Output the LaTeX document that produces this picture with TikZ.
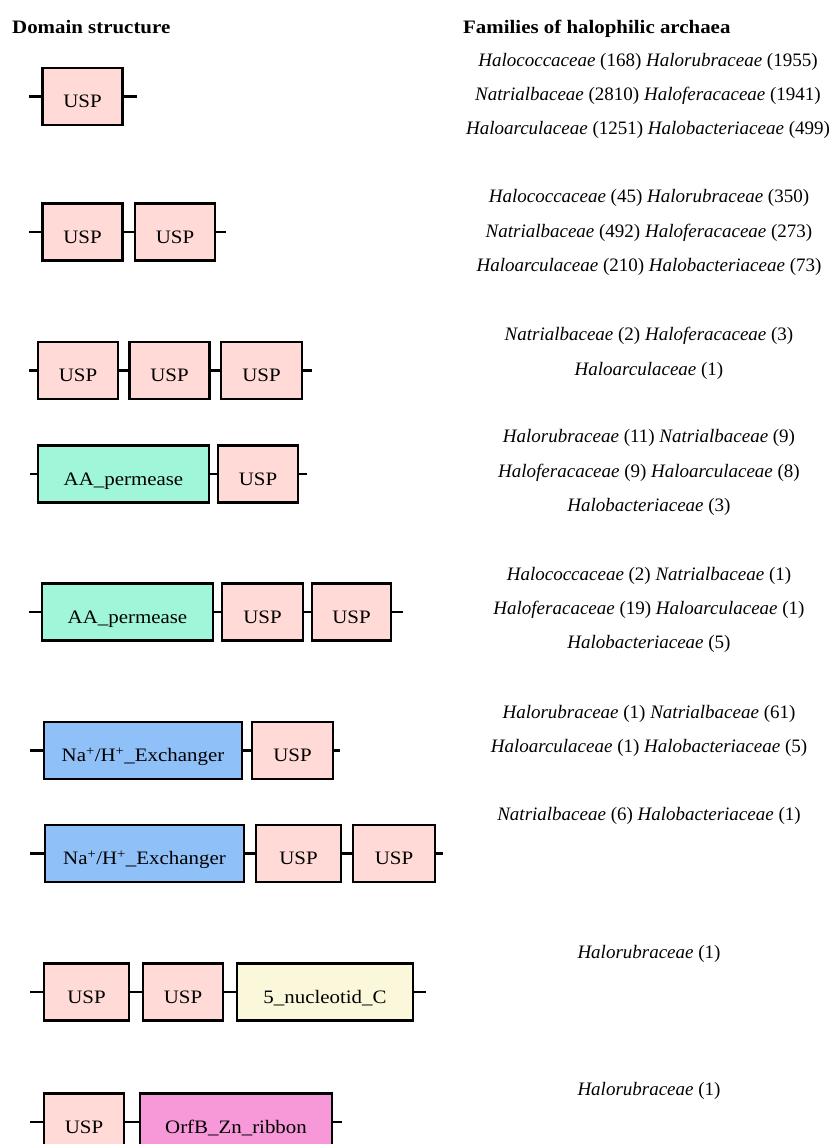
\documentclass[tikz,border=0pt]{standalone}
\usepackage{fontspec}
\setmainfont{Liberation Serif}
\newfontfamily\widefont[FakeStretch=1.1]{Liberation Serif}
\definecolor{uspc}{RGB}{255,218,214}
\definecolor{aac}{RGB}{160,246,216}
\definecolor{nac}{RGB}{143,192,248}
\definecolor{nucc}{RGB}{250,247,218}
\definecolor{orfc}{RGB}{247,152,216}
\begin{document}
\begin{tikzpicture}[x=1pt,y=-1pt,
  dom/.style={draw=black, line width=2.8pt, inner sep=0pt, outer sep=0pt,
    minimum height=57pt, font=\widefont\fontsize{19}{19}\selectfont, anchor=center,
    text height=22pt, text depth=0pt},
  usp/.style={dom, fill=uspc, minimum width=80pt},
  aap/.style={dom, fill=aac, minimum width=171pt},
  nah/.style={dom, fill=nac, minimum width=198pt},
  nuc/.style={dom, fill=nucc, minimum width=176pt},
  orf/.style={dom, fill=orfc, minimum width=192pt},
  link/.style={line width=2.6pt},
  fam/.style={font=\fontsize{19}{19}\selectfont, anchor=center, inner sep=0pt},
  head/.style={font=\widefont\bfseries\fontsize{19}{19}\selectfont, anchor=base west, inner sep=0pt}]
\useasboundingbox (0,0) rectangle (831,1144);
\clip (0,0) rectangle (831,1144);

\node[head] (h1) at (12,33) {Domain structure};
\node[head] (h2) at (463,33) {Families of halophilic archaea};

% Row 1
\coordinate (r1l) at (29,96.5); \coordinate (r1r) at (137,96.5);
\node[usp] (r1a) at (82.5,96.5) {USP};
\draw[link] (r1l) -- (r1a.west) (r1a.east) -- (r1r);

% Row 2
\coordinate (r2l) at (29,232); \coordinate (r2r) at (226,232);
\node[usp] (r2a) at (82.5,232) {USP};
\node[usp] (r2b) at (175,232) {USP};
\draw[link] (r2l) -- (r2a.west) (r2a.east) -- (r2b.west) (r2b.east) -- (r2r);

% Row 3
\coordinate (r3l) at (29,370.5); \coordinate (r3r) at (312,370.5);
\node[usp] (r3a) at (78,370.5) {USP};
\node[usp] (r3b) at (169.5,370.5) {USP};
\node[usp, minimum width=81pt] (r3c) at (261.5,370.5) {USP};
\draw[link] (r3l) -- (r3a.west) (r3a.east) -- (r3b.west) (r3b.east) -- (r3c.west) (r3c.east) -- (r3r);

% Row 4
\coordinate (r4l) at (30,474); \coordinate (r4r) at (307,474);
\node[aap] (r4a) at (123.5,474) {AA\_permease};
\node[usp] (r4b) at (258,474) {USP};
\draw[link] (r4l) -- (r4a.west) (r4a.east) -- (r4b.west) (r4b.east) -- (r4r);

% Row 5
\coordinate (r5l) at (29,612); \coordinate (r5r) at (403,612);
\node[aap] (r5a) at (127.5,612) {AA\_permease};
\node[usp, minimum width=81pt] (r5b) at (262.5,612) {USP};
\node[usp, minimum width=79pt] (r5c) at (351.5,612) {USP};
\draw[link] (r5l) -- (r5a.west) (r5a.east) -- (r5b.west) (r5b.east) -- (r5c.west) (r5c.east) -- (r5r);

% Row 6
\coordinate (r6l) at (30,750.5); \coordinate (r6r) at (340,750.5);
\node[nah] (r6a) at (143,750.5) {Na\textsuperscript{+}/H\textsuperscript{+}\_Exchanger};
\node[usp, minimum width=81pt] (r6b) at (292.5,750.5) {USP};
\draw[link] (r6l) -- (r6a.west) (r6a.east) -- (r6b.west) (r6b.east) -- (r6r);

% Row 7
\coordinate (r7l) at (30,853.5); \coordinate (r7r) at (443,853.5);
\node[nah, minimum width=199pt] (r7a) at (144.5,853.5) {Na\textsuperscript{+}/H\textsuperscript{+}\_Exchanger};
\node[usp, minimum width=85pt] (r7b) at (298.5,853.5) {USP};
\node[usp, minimum width=82pt] (r7c) at (394,853.5) {USP};
\draw[link] (r7l) -- (r7a.west) (r7a.east) -- (r7b.west) (r7b.east) -- (r7c.west) (r7c.east) -- (r7r);

% Row 8
\coordinate (r8l) at (30,992); \coordinate (r8r) at (426,992);
\node[usp, minimum width=85pt] (r8a) at (86.5,992) {USP};
\node[usp] (r8b) at (183,992) {USP};
\node[nuc] (r8c) at (325,992) {5\_nucleotid\_C};
\draw[link] (r8l) -- (r8a.west) (r8a.east) -- (r8b.west) (r8b.east) -- (r8c.west) (r8c.east) -- (r8r);

% Row 9
\coordinate (r9l) at (30,1122); \coordinate (r9r) at (342,1122);
\node[usp] (r9a) at (84,1122) {USP};
\node[orf] (r9b) at (236,1122) {OrfB\_Zn\_ribbon};
\draw[link] (r9l) -- (r9a.west) (r9a.east) -- (r9b.west) (r9b.east) -- (r9r);

% Families
\node[fam] (f1a) at (648,62) {\textit{Halococcaceae} (168) \textit{Halorubraceae} (1955)};
\node[fam] (f1b) at (648,96) {\textit{Natrialbaceae} (2810) \textit{Haloferacaceae} (1941)};
\node[fam] (f1c) at (648,130) {\textit{Haloarculaceae} (1251) \textit{Halobacteriaceae} (499)};

\node[fam] (f2a) at (649,198) {\textit{Halococcaceae} (45) \textit{Halorubraceae} (350)};
\node[fam] (f2b) at (649,233) {\textit{Natrialbaceae} (492) \textit{Haloferacaceae} (273)};
\node[fam] (f2c) at (649,267) {\textit{Haloarculaceae} (210) \textit{Halobacteriaceae} (73)};

\node[fam] (f3a) at (649,336) {\textit{Natrialbaceae} (2) \textit{Haloferacaceae} (3)};
\node[fam] (f3b) at (649,371) {\textit{Haloarculaceae} (1)};

\node[fam] (f4a) at (649,438) {\textit{Halorubraceae} (11) \textit{Natrialbaceae} (9)};
\node[fam] (f4b) at (649,473) {\textit{Haloferacaceae} (9) \textit{Haloarculaceae} (8)};
\node[fam] (f4c) at (649,507) {\textit{Halobacteriaceae} (3)};

\node[fam] (f5a) at (649,576) {\textit{Halococcaceae} (2) \textit{Natrialbaceae} (1)};
\node[fam] (f5b) at (649,610) {\textit{Haloferacaceae} (19) \textit{Haloarculaceae} (1)};
\node[fam] (f5c) at (649,644) {\textit{Halobacteriaceae} (5)};

\node[fam] (f6a) at (649,714) {\textit{Halorubraceae} (1) \textit{Natrialbaceae} (61)};
\node[fam] (f6b) at (649,748) {\textit{Haloarculaceae} (1) \textit{Halobacteriaceae} (5)};

\node[fam] (f7a) at (649,816) {\textit{Natrialbaceae} (6) \textit{Halobacteriaceae} (1)};

\node[fam] (f8a) at (649,954) {\textit{Halorubraceae} (1)};

\node[fam] (f9a) at (649,1091) {\textit{Halorubraceae} (1)};
\end{tikzpicture}
\end{document}
